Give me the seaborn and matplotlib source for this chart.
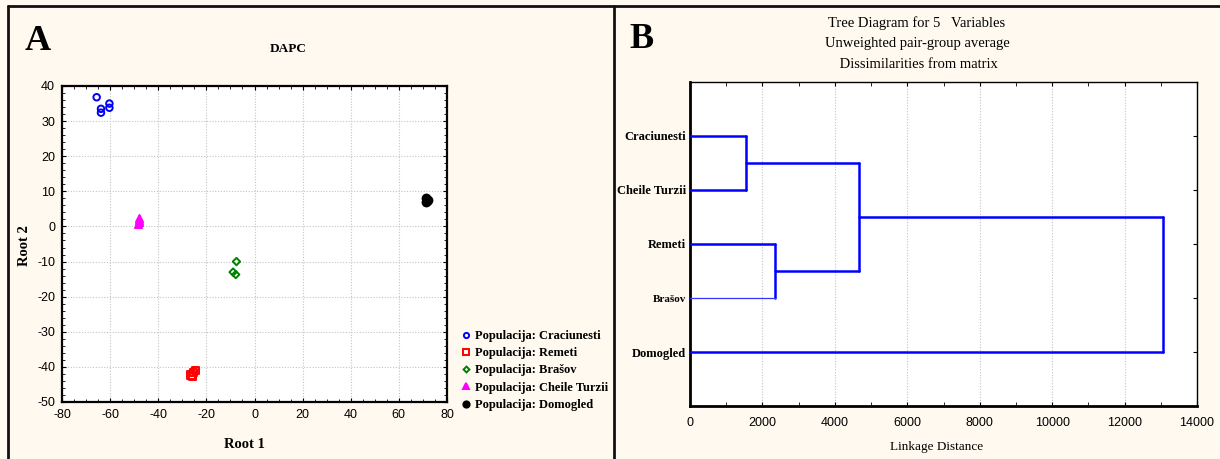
import numpy as np
import pandas as pd
import matplotlib
matplotlib.use("Agg")
import matplotlib.pyplot as plt
import seaborn as sns
from matplotlib.ticker import MultipleLocator
from matplotlib.lines import Line2D

# ==========================================
# DATOS - panel A (DAPC)
# ==========================================
crac_x = [-65.6, -63.8, -63.8, -60.3, -60.3]
crac_y = [36.8, 33.5, 32.4, 35.0, 33.8]
rem_x = [-25.4, -24.7, -26.4, -25.8]
rem_y = [-41.5, -41.1, -42.3, -42.6]
bras_x = [-7.5, -8.9, -7.8]
bras_y = [-10.0, -13.0, -13.7]
chei_x = [-48.6, -48.2, -47.8, -48.0]
chei_y = [0.6, 1.4, 2.4, 1.9]
domo_x = [71.3, 71.6, 71.9, 71.4]
domo_y = [8.2, 7.3, 7.6, 7.0]

groups = ["Craciunesti", "Remeti", "Brašov", "Cheile Turzii", "Domogled"]

# ==========================================
# DATOS - panel B (dendrograma UPGMA)
# ==========================================
leaves = ["Craciunesti", "Cheile Turzii", "Remeti", "Brašov", "Domogled"]
merge_left = ["Craciunesti", "Remeti", "c1", "c3"]
merge_right = ["Cheile Turzii", "Brašov", "c2", "Domogled"]
merge_height = [1550, 2350, 4680, 13070]
merge_name = ["c1", "c2", "c3", "c4"]

# ==========================================
# ESTILO
# ==========================================
sns.set_style("ticks")
plt.rcParams['font.family'] = ['Liberation Serif', 'DejaVu Serif']
plt.rcParams['axes.unicode_minus'] = False
plt.rcParams['text.color'] = 'black'
plt.rcParams['axes.labelcolor'] = 'black'
plt.rcParams['xtick.color'] = 'black'
plt.rcParams['ytick.color'] = 'black'
BG = "#fff9ef"
SANS = "Liberation Sans"

fig = plt.figure(figsize=(12.2, 4.59), dpi=100, facecolor=BG)
W, H = 1220, 459

def px_axes(l, t, r, b):
    return fig.add_axes([l / W, 1 - b / H, (r - l) / W, (b - t) / H])

# ------------------------------------------
# Panel A
# ------------------------------------------
axA = px_axes(62, 86, 447, 402)
axA.set_facecolor("white")

series = [
    (crac_x, crac_y, "o", "#0000ff", True, 22),
    (rem_x, rem_y, "s", "#ff0000", True, 26),
    (bras_x, bras_y, "D", "#008000", True, 14),
    (chei_x, chei_y, "^", "#ff00ff", False, 26),
    (domo_x, domo_y, "o", "black", False, 32),
]
for (xs, ys, mk, col, hollow, sz), name in zip(series, groups):
    sns.scatterplot(x=xs, y=ys, ax=axA, marker=mk, s=sz, color=col,
                    facecolor="none" if hollow else col, edgecolor=col,
                    linewidth=1.4, zorder=3)

axA.set_xlim(-80, 80)
axA.set_ylim(-50, 40)
axA.xaxis.set_major_locator(MultipleLocator(20))
axA.yaxis.set_major_locator(MultipleLocator(10))
axA.xaxis.set_minor_locator(MultipleLocator(5))
axA.yaxis.set_minor_locator(MultipleLocator(2))
axA.grid(True, which="major", color="#c4c4c4", linestyle=(0, (1, 1.5)), linewidth=0.8)
axA.tick_params(which="both", direction="in", top=True, right=True, colors="black")
axA.tick_params(which="major", length=3, labelsize=9, pad=5)
axA.tick_params(which="minor", length=2)
for lab in axA.get_xticklabels() + axA.get_yticklabels():
    lab.set_fontfamily(SANS)
for sp in axA.spines.values():
    sp.set_linewidth(1.6)
    sp.set_color("black")
axA.set_xlabel("")
axA.set_ylabel("")

fig.text(244 / W, 1 - 444 / H, "Root 1", ha="center", va="center", fontsize=10.5, fontweight="bold")
fig.text(24 / W, 1 - 246 / H, "Root 2", ha="center", va="center", fontsize=10.5, fontweight="bold", rotation=90)
fig.text(288 / W, 1 - 49 / H, "DAPC", ha="center", va="center", fontsize=9.5, fontweight="bold")
fig.text(38 / W, 1 - 41 / H, "A", ha="center", va="center", fontsize=26, fontweight="bold")

handles = []
for (xs, ys, mk, col, hollow, sz), name in zip(series, groups):
    handles.append(Line2D([], [], linestyle="none", marker=mk, markersize=np.sqrt(sz) * 0.8,
                          markerfacecolor="none" if hollow else col, markeredgecolor=col,
                          markeredgewidth=1.4, label="Populacija: " + name))
leg = fig.legend(handles=handles, loc="upper left", bbox_to_anchor=(460 / W, 1 - 330 / H),
                 frameon=False, handletextpad=0.3, handlelength=0.9, labelspacing=0.42,
                 borderpad=0, borderaxespad=0, prop={"weight": "bold", "size": 9})

# ------------------------------------------
# Panel B
# ------------------------------------------
axB = px_axes(690, 82, 1197, 406)
axB.set_facecolor("white")

pos = {name: (0.0, i + 1) for i, name in enumerate(leaves)}
rows = []
for k, (a, b, h, nm) in enumerate(zip(merge_left, merge_right, merge_height, merge_name)):
    xa, ya = pos[a]
    xb, yb = pos[b]
    rows.append((f"{k}a", xa, ya, 1.8 if a != "Brašov" else 0.9))
    rows.append((f"{k}a", h, ya, 1.8 if a != "Brašov" else 0.9))
    rows.append((f"{k}v", h, ya, 1.8))
    rows.append((f"{k}v", h, yb, 1.8))
    rows.append((f"{k}b", h, yb, 1.8 if b != "Brašov" else 0.9))
    rows.append((f"{k}b", xb, yb, 1.8 if b != "Brašov" else 0.9))
    pos[nm] = (h, (ya + yb) / 2)
seg = pd.DataFrame(rows, columns=["seg", "x", "y", "lw"])

for sid, g in seg.groupby("seg", sort=False):
    sns.lineplot(data=g, x="x", y="y", ax=axB, sort=False, estimator=None,
                 color="#0000ff" if g["lw"].iloc[0] > 1 else "#3333ff",
                 linewidth=g["lw"].iloc[0], zorder=3)

axB.set_xlim(0, 14000)
axB.set_ylim(6, 0)
axB.xaxis.set_major_locator(MultipleLocator(2000))
axB.xaxis.set_minor_locator(MultipleLocator(1000))
axB.set_yticks(range(1, len(leaves) + 1))
axB.set_yticklabels(leaves)
axB.grid(True, axis="x", which="major", color="#c4c4c4", linestyle=(0, (1, 1.5)), linewidth=0.8)
axB.tick_params(axis="x", which="both", direction="in", top=True, length=3, labelsize=9, pad=8)
axB.tick_params(axis="y", which="both", direction="in", left=False, right=True, length=3, pad=3)
for lab in axB.get_xticklabels():
    lab.set_fontfamily(SANS)
for lab in axB.get_yticklabels():
    lab.set_fontweight("bold")
    lab.set_fontsize(8 if lab.get_text() == "Brašov" else 9)
for sp in axB.spines.values():
    sp.set_linewidth(1.0)
    sp.set_color("black")
axB.spines["left"].set_linewidth(2.0)
axB.spines["bottom"].set_linewidth(2.0)
axB.set_xlabel("")
axB.set_ylabel("")

fig.text(917 / W, 1 - 23 / H, "Tree Diagram for 5   Variables", ha="center", va="center", fontsize=10.5)
fig.text(917 / W, 1 - 44 / H, "Unweighted pair-group average", ha="center", va="center", fontsize=10.5)
fig.text(917 / W, 1 - 64 / H, " Dissimilarities from matrix", ha="center", va="center", fontsize=10.5)
fig.text(937 / W, 1 - 447 / H, "Linkage Distance", ha="center", va="center", fontsize=9.5)
fig.text(641 / W, 1 - 40 / H, "B", ha="center", va="center", fontsize=26, fontweight="bold")

# marco exterior y separador de paneles
frame_kw = dict(color="#111111", linewidth=2.0, transform=fig.transFigure, zorder=10)
fig.add_artist(Line2D([8 / W, 1], [1 - 6 / H, 1 - 6 / H], **frame_kw))
fig.add_artist(Line2D([8 / W, 8 / W], [0, 1 - 6 / H], **frame_kw))
fig.add_artist(Line2D([614 / W, 614 / W], [0, 1 - 6 / H], **frame_kw))

fig.savefig("out.png", dpi=100, facecolor=BG)
